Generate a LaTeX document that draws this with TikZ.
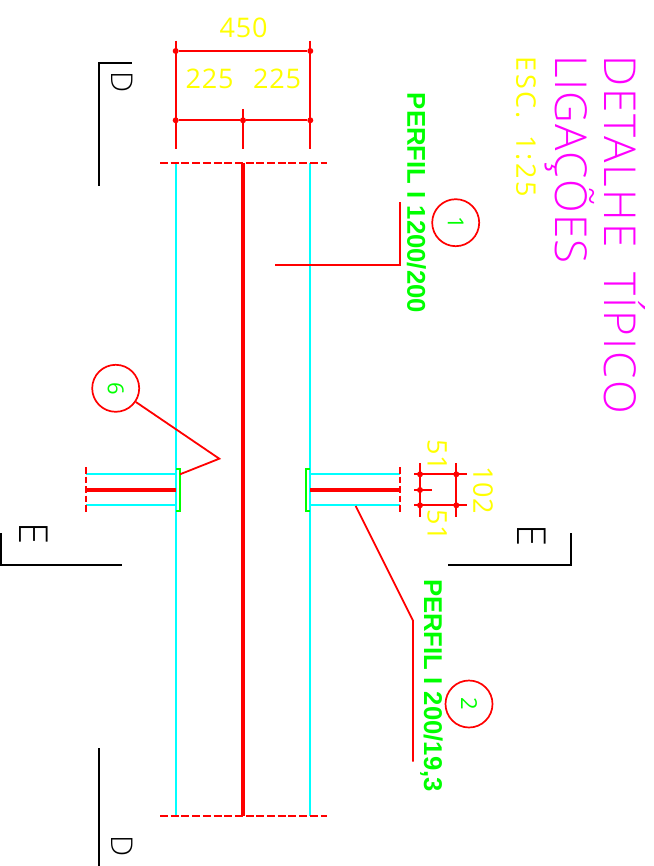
\documentclass[tikz,border=0pt]{standalone}
\usepackage{fontspec}
\setmainfont{Liberation Sans}
\newfontfamily\cadfont{Open Sans}
\newfontfamily\cadlight{Open Sans Light}
\definecolor{cadcyan}{RGB}{0,255,255}
\definecolor{cadred}{RGB}{255,0,0}
\definecolor{cadgreen}{RGB}{0,255,0}
\definecolor{cadyellow}{RGB}{255,255,0}
\definecolor{cadmagenta}{RGB}{255,0,255}
\begin{document}
\begin{tikzpicture}[x=1pt,y=-1pt,
  cyanline/.style={draw=cadcyan,line width=2.2pt},
  webline/.style={draw=cadred,line width=4.8pt},
  stubweb/.style={draw=cadred,line width=3.6pt},
  dimline/.style={draw=cadred,line width=2pt},
  leader/.style={draw=cadred,line width=1.8pt},
  cutline/.style={draw=cadred,line width=1.8pt,dash pattern=on 8pt off 2.7pt},
  stubcut/.style={draw=cadred,line width=1.9pt,dash pattern=on 6.5pt off 3pt},
  plate/.style={draw=cadgreen,line width=1.8pt},
  secline/.style={draw=black,line width=1.7pt},
  dimdot/.style={circle,fill=cadred,inner sep=0pt,minimum size=6pt},
  bubble/.style={circle,draw=cadred,line width=1.7pt,minimum size=47pt,inner sep=0pt,text=cadgreen,font=\cadfont\fontsize{22}{22}\selectfont},
  yelltext/.style={inner sep=0pt,text=cadyellow,font=\cadfont\fontsize{27}{27}\selectfont\addfontfeature{LetterSpace=3}},
  titletext/.style={inner sep=0pt,text=cadmagenta,rotate=-90,anchor=north west},
  seclabel/.style={inner sep=0pt,text=black,rotate=-90},
  perfil/.style={inner sep=0pt,text=cadgreen,rotate=-90,font=\bfseries\fontsize{25.7}{25.7}\selectfont},
]
\useasboundingbox (0,0) rectangle (653,866);
% main column
\coordinate (cA1) at (176,163); \coordinate (cA2) at (176,816);
\coordinate (cB1) at (310,163); \coordinate (cB2) at (310,816);
\coordinate (cW1) at (243,163); \coordinate (cW2) at (243,816);
\draw[cyanline] (cA1) -- (cA2);
\draw[cyanline] (cB1) -- (cB2);
\draw[webline] (cW1) -- (cW2);
\coordinate (ct1) at (160,163); \coordinate (ct2) at (327,163);
\coordinate (cb1) at (160,816); \coordinate (cb2) at (327,816);
\draw[cutline] (ct1) -- (ct2);
\draw[cutline] (cb1) -- (cb2);
% right stub
\coordinate (ra1) at (310,474.3); \coordinate (ra2) at (400,474.3);
\coordinate (rb1) at (310,505.3); \coordinate (rb2) at (400,505.3);
\coordinate (rw1) at (310,490); \coordinate (rw2) at (400,490);
\coordinate (rc1) at (400,467); \coordinate (rc2) at (400,513);
\draw[cyanline,line width=2pt] (ra1) -- (ra2);
\draw[cyanline,line width=2pt] (rb1) -- (rb2);
\draw[stubweb] (rw1) -- (rw2);
\draw[stubcut] (rc1) -- (rc2);
% left stub
\coordinate (la1) at (176,474.3); \coordinate (la2) at (86,474.3);
\coordinate (lb1) at (176,505.3); \coordinate (lb2) at (86,505.3);
\coordinate (lw1) at (176,490); \coordinate (lw2) at (86,490);
\coordinate (lc1) at (86,467); \coordinate (lc2) at (86,513);
\draw[cyanline,line width=2pt] (la1) -- (la2);
\draw[cyanline,line width=2pt] (lb1) -- (lb2);
\draw[stubweb] (lw1) -- (lw2);
\draw[stubcut] (lc1) -- (lc2);
% green plates
\draw[plate] (310,468.7) -- (306,468.7) -- (306,510.7) -- (310,510.7);
\draw[plate] (176,468.7) -- (180,468.7) -- (180,510.7) -- (176,510.7);
% top dimensions
\coordinate (d1t) at (175.7,40.6); \coordinate (d1b) at (175.7,149);
\coordinate (d2t) at (310.3,40.6); \coordinate (d2b) at (310.3,149);
\coordinate (d3t) at (243,109); \coordinate (d3b) at (243,149);
\draw[dimline] (d1t) -- (d1b);
\draw[dimline] (d2t) -- (d2b);
\draw[dimline] (d3t) -- (d3b);
\node[dimdot] (p1) at (175.7,51) {};
\node[dimdot] (p2) at (310.3,51) {};
\node[dimdot] (p3) at (175.7,120.3) {};
\node[dimdot] (p4) at (243,120.3) {};
\node[dimdot] (p5) at (310.3,120.3) {};
\draw[dimline] (p1) -- (p2);
\draw[dimline] (p3) -- (p4);
\draw[dimline] (p4) -- (p5);
\node[yelltext] (t450) at (243.5,28) {450};
\node[yelltext] (t225a) at (209.5,79) {225};
\node[yelltext] (t225b) at (277,79) {225};
% side dimensions
\coordinate (s1t) at (420,463); \coordinate (s1b) at (420,517);
\coordinate (s2t) at (456.3,463); \coordinate (s2b) at (456.3,517);
\draw[dimline] (s1t) -- (s1b);
\draw[dimline] (s2t) -- (s2b);
\coordinate (h1l) at (414,474.3); \coordinate (h1r) at (467,474.3);
\coordinate (h2l) at (414,505.3); \coordinate (h2r) at (467,505.3);
\coordinate (h3l) at (414,490); \coordinate (h3r) at (432,490);
\draw[dimline] (h1l) -- (h1r);
\draw[dimline] (h2l) -- (h2r);
\draw[dimline] (h3l) -- (h3r);
\node[dimdot] (q1) at (420,474.3) {};
\node[dimdot] (q2) at (420,490) {};
\node[dimdot] (q3) at (420,505.3) {};
\node[dimdot] (q4) at (456.3,474.3) {};
\node[dimdot] (q5) at (456.3,505.3) {};
\node[yelltext,rotate=-90] (t102) at (483,490) {102};
\node[yelltext,rotate=-90] (t51a) at (437,455) {51};
\node[yelltext,rotate=-90] (t51b) at (437,525) {51};
% bubbles and leaders
\node[bubble] (b1) at (455.7,222.7) {\rotatebox{-90}{1}};
\node[bubble] (b2) at (469,704) {\rotatebox{-90}{2}};
\node[bubble] (b6) at (115.7,388.3) {\rotatebox{-90}{6}};
\coordinate (l1a) at (275,265); \coordinate (l1b) at (400,265); \coordinate (l1c) at (400,201.7);
\draw[leader] (l1a) -- (l1b) -- (l1c);
\coordinate (l2a) at (355.7,506); \coordinate (l2b) at (413,620.7); \coordinate (l2c) at (413,761.7);
\draw[leader] (l2a) -- (l2b) -- (l2c);
\coordinate (l6a) at (219.3,458.7); \coordinate (l6b) at (180,474.3);
\draw[leader] (b6) -- (l6a) -- (l6b);
% profile labels
\node[perfil] (pf1) at (416.5,203) {PERFIL I 1200/200};
\node[perfil] (pf2) at (431.5,685.5) {PERFIL I 200/19,3};
% titles
\node[titletext,font=\cadlight\fontsize{44}{44}\selectfont\addfontfeature{LetterSpace=4.5}] (title1) at (645.5,55) {DETALHE\hspace{12pt} TÍPICO};
\node[titletext,font=\cadlight\fontsize{44}{44}\selectfont\addfontfeature{LetterSpace=3}] (title2) at (595,55) {LIGAÇÕES};
\node[titletext,text=cadyellow,font=\cadfont\fontsize{27}{27}\selectfont\addfontfeature{LetterSpace=9}] (title3) at (536,56.7) {ESC.\hspace{8pt} 1:25};
% section marks
\coordinate (dt1) at (131.7,63.3); \coordinate (dt2) at (99.3,63.3); \coordinate (dt3) at (99.3,186);
\draw[secline] (dt1) -- (dt2) -- (dt3);
\coordinate (db1) at (99.3,748); \coordinate (db2) at (99.3,866);
\draw[secline] (db1) -- (db2);
\coordinate (el1) at (0.7,533.3); \coordinate (el2) at (0.7,565); \coordinate (el3) at (122,565);
\draw[secline] (el1) -- (el2) -- (el3);
\coordinate (er1) at (448,565); \coordinate (er2) at (571,565); \coordinate (er3) at (571,533.3);
\draw[secline] (er1) -- (er2) -- (er3);
\node[seclabel,font=\cadlight\fontsize{30}{30}\selectfont] (sD1) at (122,81.7) {D};
\node[seclabel,font=\cadlight\fontsize{30}{30}\selectfont] (sD2) at (122,846.5) {D};
\node[seclabel,font=\cadlight\fontsize{40}{40}\selectfont] (sE1) at (34,534) {E};
\node[seclabel,font=\cadlight\fontsize{40}{40}\selectfont] (sE2) at (532,536) {E};
\end{tikzpicture}
\end{document}
